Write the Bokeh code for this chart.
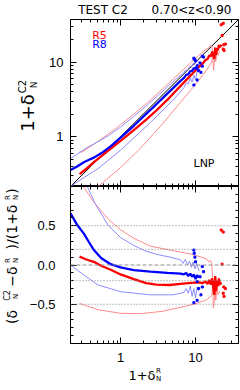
import numpy as np
from bokeh.plotting import figure
from bokeh.models import FixedTicker, Label, Range1d, Span, LogAxis, LinearAxis
from bokeh.layouts import column
from bokeh.embed import file_html
from bokeh.resources import INLINE

# ---------------- data ----------------
# relative deviation v = (d_C2 - d_R)/(1 + d_R) versus x = 1 + d_R
# R5 median (thick red)
r5_x = [0.284, 0.35, 0.44, 0.55, 0.74, 1.0, 1.5, 2.2, 3.0, 4.5, 6.3, 8.0, 9.5, 11, 12.5,
        13.5, 14.5, 15.2, 16, 16.7, 17.3, 17.8, 18.3, 18.8, 19.3, 19.8, 20.5, 21.2, 22]
r5_v = [0.106, 0.07, 0.04, -0.01, -0.06, -0.12, -0.18, -0.23, -0.25, -0.255, -0.24, -0.23,
        -0.225, -0.22, -0.23, -0.21, -0.24, -0.19, -0.25, -0.17, -0.30, -0.38, -0.14, -0.33,
        -0.20, -0.27, -0.17, -0.25, -0.22]
# R5 upper / lower envelopes (thin red)
r5u_x = [0.284, 0.305, 0.44, 0.69, 1.0, 1.5, 2.5, 4.6, 8.6, 12, 14, 15, 15.8, 16.4, 16.9,
         17.3, 17.8, 18.5, 19.3, 20.2, 21.0]
r5u_v = [1.25, 1.03, 0.80, 0.58, 0.45, 0.34, 0.24, 0.19, 0.14, 0.10, 0.08, 0.04, 0.06, 0.02,
         -0.15, -0.55, -0.45, -0.25, -0.30, -0.22, -0.28]
r5l_x = [0.284, 0.5, 1.0, 1.85, 3.6, 6.3, 9.5, 14, 15.5, 16.5, 17.0, 17.5, 18.0, 18.6, 19.3,
         20.0, 21.0]
r5l_v = [-0.49, -0.57, -0.615, -0.62, -0.59, -0.54, -0.50, -0.445, -0.41, -0.39, -0.25,
         -0.35, -0.20, -0.45, -0.30, -0.38, -0.33]
# R8 median (thick blue)
r8_x = [0.215, 0.26, 0.324, 0.38, 0.441, 0.55, 0.736, 1.0, 1.5, 2.5, 4.2, 6.3, 7.0, 7.5, 8.0,
        8.5, 9.0, 9.5, 10.0, 10.5, 11.0]
r8_v = [0.66, 0.52, 0.40, 0.29, 0.19, 0.09, 0.01, -0.03, -0.065, -0.085, -0.10, -0.11, -0.12,
        -0.10, -0.14, -0.11, -0.15, -0.12, -0.18, -0.13, -0.16]
# R8 upper / lower envelopes (thin blue)
r8u_x = [0.215, 0.355, 0.46, 0.69, 1.0, 1.5, 2.13, 3.2, 4.6, 6.3, 6.8, 7.3, 7.8, 8.3, 8.8,
         9.3, 9.8, 10.3, 10.8, 11.2]
r8u_v = [1.36, 1.01, 0.78, 0.50, 0.35, 0.25, 0.18, 0.13, 0.10, 0.065, 0.02, 0.07, 0.0, 0.05,
         -0.03, 0.04, -0.05, 0.02, -0.04, -0.08]
r8l_x = [0.215, 0.324, 0.5, 1.0, 2.5, 5.0, 7.0, 7.5, 8.0, 8.5, 9.0, 9.5, 10.0, 10.5, 11.0]
r8l_v = [0.0, -0.127, -0.254, -0.34, -0.38, -0.38, -0.35, -0.30, -0.36, -0.27, -0.40, -0.30,
         -0.42, -0.28, -0.33]
# isolated points
r8d_x = [9.5, 9.6, 10.0, 12.3, 12.8, 11.5, 10.5, 12.3, 11.0, 9.5, 10.5, 9.8, 11.8]
r8d_v = [0.19, 0.15, 0.04, -0.02, -0.085, -0.15, -0.21, -0.28, -0.30, -0.48, -0.45, 0.10, -0.38]
r5d_x = [22.0, 23.4, 22.6, 23.8, 23.4, 24.0, 25.0]
r5d_v = [0.445, 0.42, 0.01, -0.28, -0.36, -0.40, -0.30]

one_to_one = [0.1, 100.0]
ref_dotted = [0.5, 0.2, -0.2, -0.5]
ref_dashed = [0.0]

log_major = [1, 10]
log_minor = [0.3, 0.4, 0.5, 0.6, 0.7, 0.8, 0.9, 2, 3, 4, 5, 6, 7, 8, 9, 20, 30]
lin_major = [-0.5, 0.0, 0.5]
lin_minor = [-0.9, -0.8, -0.7, -0.6, -0.4, -0.3, -0.2, -0.1, 0.1, 0.2, 0.3, 0.4, 0.6, 0.7, 0.8, 0.9]
log_labels = {1: "1", 10: "10"}
lin_labels = {-0.5: "\u22120.5", 0.0: "0.0", 0.5: "0.5"}

# ---------------- geometry (page pixels; the page has no margin) ----------------
X0, X1 = 0.215, 37.4
FL, FR = 70, 238            # frame left/right
TT, TB = 19, 186            # top panel frame top/bottom
BT, BB = 186, 343           # bottom panel frame top/bottom
PAGE_W, PAGE_B = 240, 388
RED, BLUE = "#ff0000", "#0000ff"
PINK, LBLUE = "#ff8c8c", "#8c8cff"
FONT = "DejaVu Sans"
ANG = float(np.pi / 2)


def style_axis(ax, ticks, minor, labels=None, standoff=5):
    ax.ticker = FixedTicker(ticks=ticks, minor_ticks=minor)
    ax.major_tick_in = 6
    ax.major_tick_out = 0
    ax.minor_tick_in = 3
    ax.minor_tick_out = 0
    ax.major_tick_line_color = "black"
    ax.minor_tick_line_color = "black"
    ax.axis_line_color = "black"
    if labels is not None:
        ax.major_label_overrides = labels
        ax.major_label_text_font = "Liberation Sans"
        ax.major_label_text_font_size = "13px"
        ax.major_label_text_color = "black"
        ax.major_label_standoff = standoff
    else:
        ax.major_label_overrides = {t: "" for t in ticks}
        ax.major_label_text_font_size = "1px"
        ax.major_label_standoff = 0


def base_fig(height, **kw):
    f = figure(width=PAGE_W, height=height, output_backend="svg", toolbar_location=None,
               min_border_left=FL, min_border_right=PAGE_W - FR, **kw)
    f.grid.visible = False
    f.outline_line_color = "black"
    f.background_fill_color = "white"
    f.border_fill_color = "white"
    return f


# ---------------- top panel ----------------
top = base_fig(TB, x_axis_type="log", y_axis_type="log",
               x_range=Range1d(X0, X1), y_range=Range1d(X0, X1),
               min_border_top=TT, min_border_bottom=0)
style_axis(top.xaxis[0], log_major, log_minor)
style_axis(top.yaxis[0], log_major, log_minor, log_labels, standoff=7)
ax = LogAxis(); style_axis(ax, log_major, log_minor); top.add_layout(ax, "above")
ax = LogAxis(); style_axis(ax, log_major, log_minor); top.add_layout(ax, "right")


def rel_to_abs(xs, vs):
    xs = np.array(xs, dtype=float)
    return xs, xs * (1 + np.array(vs, dtype=float))


top.line(one_to_one, one_to_one, line_color="black", line_width=1)
for xs, vs, c in [(r5u_x, r5u_v, PINK), (r5l_x, r5l_v, PINK),
                  (r8u_x, r8u_v, LBLUE), (r8l_x, r8l_v, LBLUE)]:
    a, b = rel_to_abs(xs, vs)
    top.line(a, b, line_color=c, line_width=1)
for xs, vs, c in [(r5_x, r5_v, RED), (r8_x, r8_v, BLUE)]:
    a, b = rel_to_abs(xs, vs)
    top.line(a, b, line_color=c, line_width=2.3)
a, b = rel_to_abs(r8d_x, r8d_v)
top.scatter(a, b, marker="square", size=2, color=BLUE)
a, b = rel_to_abs(r5d_x, r5d_v)
top.scatter(a, b, marker="square", size=2, color=RED)

# ---------------- bottom panel ----------------
bot = base_fig(PAGE_B - BT, x_axis_type="log",
               x_range=Range1d(X0, X1), y_range=Range1d(-1, 1),
               min_border_top=0, min_border_bottom=PAGE_B - BB)
style_axis(bot.xaxis[0], log_major, log_minor, log_labels, standoff=9)
style_axis(bot.yaxis[0], lin_major, lin_minor, lin_labels, standoff=15)
ax = LogAxis(); style_axis(ax, log_major, log_minor); bot.add_layout(ax, "above")
ax = LinearAxis(); style_axis(ax, lin_major, lin_minor); bot.add_layout(ax, "right")

for loc in ref_dotted:
    bot.add_layout(Span(location=loc, dimension="width", line_color="#808080",
                        line_width=1, line_dash="1 2"))
for loc in ref_dashed:
    bot.add_layout(Span(location=loc, dimension="width", line_color="#909090",
                        line_width=1, line_dash="4 2"))

for xs, vs, c in [(r5u_x, r5u_v, PINK), (r5l_x, r5l_v, PINK),
                  (r8u_x, r8u_v, LBLUE), (r8l_x, r8l_v, LBLUE)]:
    bot.line(xs, vs, line_color=c, line_width=1)
bot.line(r5_x, r5_v, line_color=RED, line_width=2.3)
bot.line(r8_x, r8_v, line_color=BLUE, line_width=2.3)
bot.scatter(r8d_x, r8d_v, marker="square", size=2, color=BLUE)
bot.scatter(r5d_x, r5d_v, marker="square", size=2, color=RED)

# ---------------- transparent text layer over the whole page ----------------
# a separate root, pinned to the page's top-left; its data coordinates are page pixels
txt = figure(width=PAGE_W, height=PAGE_B, x_range=Range1d(0, PAGE_W),
             y_range=Range1d(PAGE_B, 0), output_backend="svg", toolbar_location=None,
             x_axis_location=None, y_axis_location=None, title=None,
             min_border=0, min_border_left=0, min_border_right=0,
             min_border_top=0, min_border_bottom=0,
             styles={"position": "absolute", "left": "0px", "top": "0px"})
txt.grid.visible = False
txt.outline_line_color = None
txt.background_fill_color = None
txt.border_fill_color = None


def label(px, py, text, size, color="black", angle=0.0):
    txt.add_layout(Label(x=float(px), y=float(py), text=text, text_font=FONT,
                         text_font_size=f"{size}px", text_color=color,
                         text_align="center", text_baseline="middle", angle=angle))


label(102.5, 9, "TEST C2", 12)
label(191, 9, "0.70<z<0.90", 12)
label(99, 34.5, "R5", 11, RED)
label(99, 44, "R8", 11, BLUE)
label(203.5, 163, "LNP", 11)

# top y label: 1+δ^C2_N
label(26.5, 112.5, "1+\u03b4", 18, angle=ANG)
label(21.5, 86, "C2", 10, angle=ANG)
label(33.5, 84.5, "N", 9, angle=ANG)

# bottom y label: (δ^C2_N − δ^R_N)/(1+δ^R_N)
MX, SUPX, SUBX = 11, 7, 15
label(MX, 316.5, "(\u03b4", 14, angle=ANG)
label(SUPX, 295, "C2", 8, angle=ANG)
label(SUBX, 296, "N", 7, angle=ANG)
label(MX, 276, "\u2212\u03b4", 14, angle=ANG)
label(SUPX, 260, "R", 7, angle=ANG)
label(SUBX, 260, "N", 7, angle=ANG)
label(MX, 226.5, ")/(1+\u03b4", 14, angle=ANG)
label(SUPX, 197, "R", 7, angle=ANG)
label(SUBX, 197, "N", 7, angle=ANG)
label(MX, 190.5, ")", 14, angle=ANG)

# x label: 1+δ^R_N
label(141.5, 375, "1+\u03b4", 13)
label(158, 370.5, "R", 7)
label(158, 378.5, "N", 7)

page = column(top, bot)
open("out.html", "w").write(file_html([page, txt], INLINE))
